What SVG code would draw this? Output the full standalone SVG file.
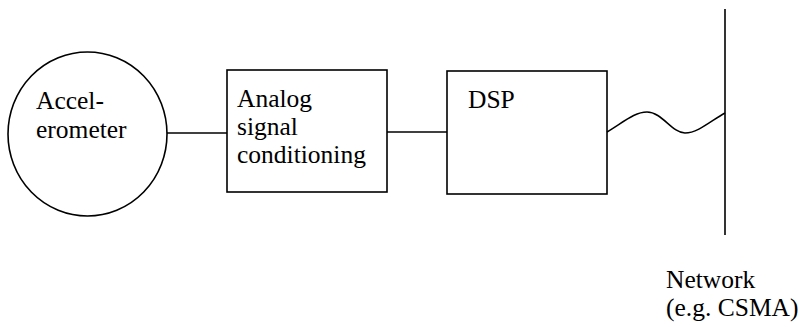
<svg xmlns="http://www.w3.org/2000/svg" width="801" height="327" viewBox="0 0 801 327">
  <style>
    .shape { fill: none; stroke: #000; stroke-width: 1.6; }
    .wire { fill: none; stroke: #000; stroke-width: 1.5; }
    .label { font-family: "Liberation Serif", "Times New Roman", serif; font-size: 25.5px; fill: #000; }
  </style>
  <rect width="801" height="327" fill="#fff"/>

  <g id="accelerometer">
    <ellipse class="shape" cx="87.5" cy="134" rx="79.5" ry="82"/>
    <text class="label" x="36" y="109">Accel-</text>
    <text class="label" x="36" y="138">erometer</text>
  </g>

  <g id="analog-conditioning">
    <rect class="shape" x="227" y="70" width="160" height="122"/>
    <text class="label" x="237" y="107">Analog</text>
    <text class="label" x="237" y="135">signal</text>
    <text class="label" x="237" y="163">conditioning</text>
  </g>

  <g id="dsp">
    <rect class="shape" x="447" y="71" width="160" height="123"/>
    <text class="label" x="468" y="108">DSP</text>
  </g>

  <g id="network">
    <line class="shape" x1="725" y1="9" x2="725" y2="235"/>
    <text class="label" x="666" y="288">Network</text>
    <text class="label" x="666" y="316">(e.g. CSMA)</text>
  </g>

  <g id="connectors">
    <line class="wire" x1="167" y1="133" x2="227" y2="133"/>
    <line class="wire" x1="387" y1="132" x2="447" y2="132"/>
    <path class="wire" d="M607,132 C625,121 635,112 647,112 C662,112 672,133 685,133 C698,133 712,120 725,113"/>
  </g>
</svg>
